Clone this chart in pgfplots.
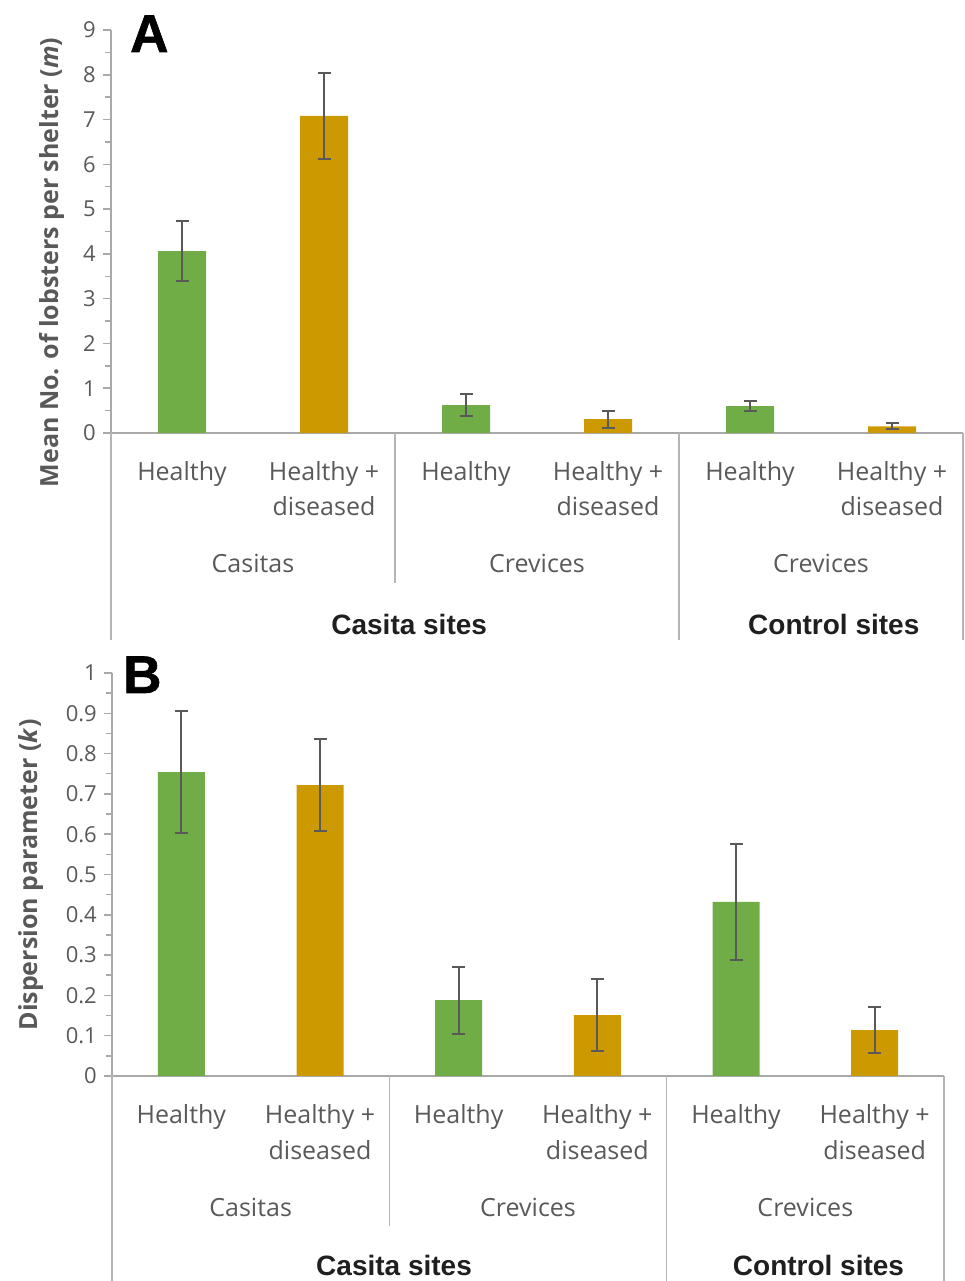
\documentclass[border=0pt]{standalone}
\usepackage{pgfplots}
\pgfplotsset{compat=1.18}
\usepackage{pgfplotstable}
\usepackage{fontspec}
\setmainfont{Open Sans}
\newfontfamily\arialfont{Liberation Sans}
\newfontfamily\heavyfont{Liberation Sans Bold}[FakeBold=1.2]
\definecolor{grn}{HTML}{70AD47}
\definecolor{gld}{HTML}{CC9900}
\definecolor{txtgray}{HTML}{595959}
\definecolor{axgray}{HTML}{A9A9A9}
\definecolor{sepgray}{HTML}{B4B4B4}
\definecolor{errgray}{HTML}{595959}
\definecolor{blk}{HTML}{1F1F1F}

\pgfplotstableread{
x y e
0 4.06 0.67
2 0.62 0.25
4 0.60 0.11
}\Agreen
\pgfplotstableread{
x y e
1 7.08 0.96
3 0.31 0.19
5 0.15 0.07
}\Agold
\pgfplotstableread{
x y e
0 0.754 0.152
2 0.188 0.083
4 0.432 0.144
}\Bgreen
\pgfplotstableread{
x y e
1 0.722 0.113
3 0.151 0.090
5 0.114 0.058
}\Bgold

\pgfplotsset{
  panel/.style={
    scale only axis,
    anchor=south west,
    xmin=-0.5, xmax=5.5,
    ymin=0,
    axis x line=bottom, axis y line=left,
    axis line style={draw=axgray, line width=2pt, -},
    xtick=\empty,
    tick align=outside,
    major tick length=8pt,
    minor tick length=6pt,
    minor y tick num=1,
    ytick style={draw=axgray, line width=1.5pt},
    minor tick style={draw=axgray, line width=1.5pt},
    /pgf/number format/assume math mode=true,
    yticklabel style={font=\fontsize{22}{22}\selectfont, text=txtgray, inner sep=0pt, anchor=east},
    yticklabel shift=7pt,
    clip=false,
    ybar, bar shift=0pt,
    error bars/error bar style={draw=errgray, line width=2pt},
    error bars/error mark options={draw=errgray, line width=2pt, mark size=6.5pt, rotate=90},
  },
}
\tikzset{
  cat/.style={font=\fontsize{25}{30}\selectfont, text=txtgray, anchor=base, inner sep=0pt},
  grp/.style={font=\arialfont\bfseries\fontsize{28}{30}\selectfont, text=blk, anchor=base, inner sep=0pt},
  sep/.style={draw=sepgray, line width=1.5pt},
}

\begin{document}
\begin{tikzpicture}[x=1pt,y=1pt]
\useasboundingbox (0,0) rectangle (964,1281);

% ---------------- Panel A ----------------
\begin{axis}[panel, at={(111pt,848pt)}, width=852pt, height=403pt,
  ymax=9, ytick={0,1,...,9}]
\addplot[fill=grn, draw=none, bar width=48pt,
  error bars/.cd, y dir=both, y explicit]
  table[x=x, y=y, y error=e] {\Agreen};
\addplot[fill=gld, draw=none, bar width=48pt,
  error bars/.cd, y dir=both, y explicit]
  table[x=x, y=y, y error=e] {\Agold};
\draw[sep] (axis cs:1.5,0) -- ([yshift=-150pt]axis cs:1.5,0);
\draw[sep] (axis cs:-0.5,0) -- ([yshift=-207pt]axis cs:-0.5,0);
\draw[sep] (axis cs:3.5,0) -- ([yshift=-207pt]axis cs:3.5,0);
\draw[sep] (axis cs:5.5,0) -- ([yshift=-207pt]axis cs:5.5,0);
\pgfplotsinvokeforeach{0,2,4}{\node[cat, yshift=-48pt] at (axis cs:#1,0) {Healthy};}
\pgfplotsinvokeforeach{1,3,5}{\node[cat, yshift=-48pt] at (axis cs:#1,0) {Healthy +};
                        \node[cat, yshift=-83pt] at (axis cs:#1,0) {diseased};}
\node[cat, yshift=-140pt] at (axis cs:0.5,0) {Casitas};
\node[cat, yshift=-140pt] at (axis cs:2.5,0) {Crevices};
\node[cat, yshift=-140pt] at (axis cs:4.5,0) {Crevices};
\node[grp, yshift=-202pt] at (axis cs:1.6,0) {Casita sites};
\node[grp, yshift=-202pt] at (axis cs:4.59,0) {Control sites};
\end{axis}

% ---------------- Panel B ----------------
\begin{axis}[panel, at={(112pt,205pt)}, width=832pt, height=403pt,
  ymax=1, ytick={0,0.1,0.2,0.3,0.4,0.5,0.6,0.7,0.8,0.9,1},
  yticklabel style={/pgf/number format/fixed}]
\addplot[fill=grn, draw=none, bar width=47pt,
  error bars/.cd, y dir=both, y explicit]
  table[x=x, y=y, y error=e] {\Bgreen};
\addplot[fill=gld, draw=none, bar width=47pt,
  error bars/.cd, y dir=both, y explicit]
  table[x=x, y=y, y error=e] {\Bgold};
\draw[sep] (axis cs:1.5,0) -- ([yshift=-150pt]axis cs:1.5,0);
\draw[sep] (axis cs:-0.5,0) -- ([yshift=-205pt]axis cs:-0.5,0);
\draw[sep] (axis cs:3.5,0) -- ([yshift=-205pt]axis cs:3.5,0);
\draw[sep] (axis cs:5.5,0) -- ([yshift=-205pt]axis cs:5.5,0);
\pgfplotsinvokeforeach{0,2,4}{\node[cat, yshift=-47pt] at (axis cs:#1,0) {Healthy};}
\pgfplotsinvokeforeach{1,3,5}{\node[cat, yshift=-47pt] at (axis cs:#1,0) {Healthy +};
                        \node[cat, yshift=-83pt] at (axis cs:#1,0) {diseased};}
\node[cat, yshift=-140pt] at (axis cs:0.5,0) {Casitas};
\node[cat, yshift=-140pt] at (axis cs:2.5,0) {Crevices};
\node[cat, yshift=-140pt] at (axis cs:4.5,0) {Crevices};
\node[grp, yshift=-199pt] at (axis cs:1.534,0) {Casita sites};
\node[grp, yshift=-199pt] at (axis cs:4.595,0) {Control sites};
\end{axis}

% titles and panel letters
\node[rotate=90, anchor=base, inner sep=0pt, text=txtgray, font=\bfseries\fontsize{25}{30}\selectfont]
  at (58,1018.5) {Mean No. of lobsters per shelter (\textit{m})};
\node[rotate=90, anchor=base, inner sep=0pt, text=txtgray, font=\bfseries\fontsize{25}{30}\selectfont]
  at (37,406) {Dispersion parameter (\textit{k})};
\node[anchor=base west, inner sep=0pt, text=black, font=\heavyfont\fontsize{53}{53}\selectfont]
  at (130,1229) {A};
\node[anchor=base west, inner sep=0pt, text=black, font=\heavyfont\fontsize{53}{53}\selectfont]
  at (123,588) {B};
\end{tikzpicture}
\end{document}
